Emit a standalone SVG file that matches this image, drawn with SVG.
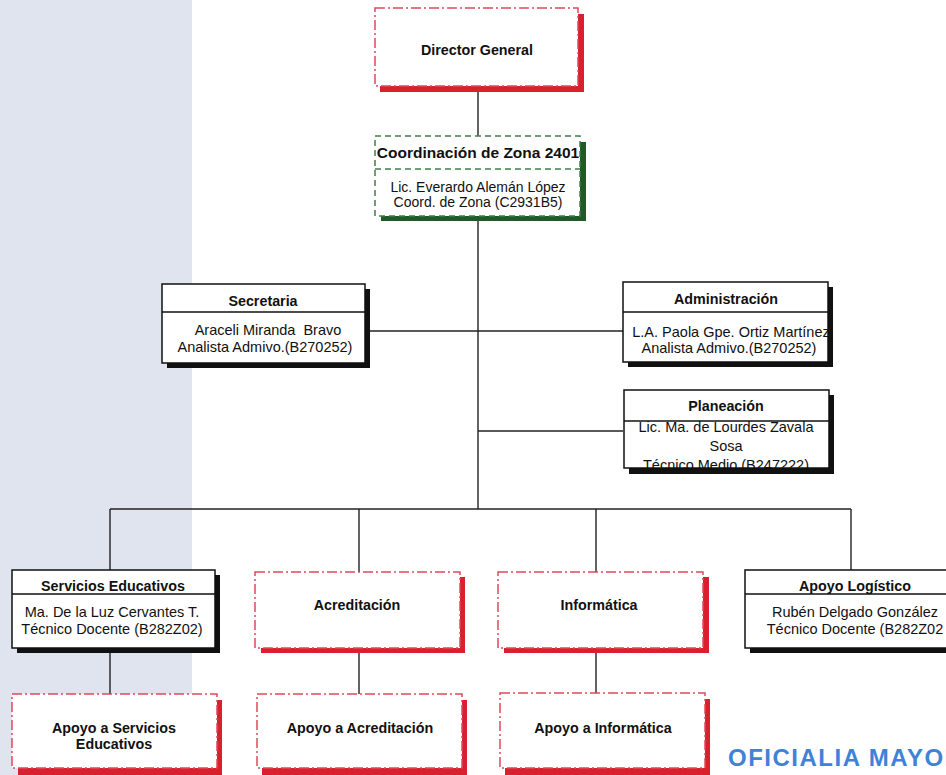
<svg xmlns="http://www.w3.org/2000/svg" width="946" height="775" viewBox="0 0 946 775">
<style>
text{font-family:"Liberation Sans",Arial,sans-serif;fill:#111;text-anchor:middle;white-space:pre}
.t{font-weight:bold;font-size:14.3px}
.n{font-size:14.5px}
.box{fill:#fff;stroke:#111;stroke-width:1.5}
.sh{fill:#111}
.rsh{fill:#d8202e}
.rbox{fill:#fff;stroke:#e0485a;stroke-width:1.5;stroke-dasharray:10 3 2 3}
.gsh{fill:#1f5a27}
.gbox{fill:#fff;stroke:#3f7d4a;stroke-width:1.5;stroke-dasharray:6 4}
.c{stroke:#222;stroke-width:1.4;fill:none}
</style>
<rect x="0" y="0" width="192" height="775" fill="#dfe4ef"/>
<g id="connectors">
<line class="c" x1="478" y1="91" x2="478" y2="136"/>
<line class="c" x1="478" y1="221" x2="478" y2="509"/>
<line class="c" x1="370" y1="331" x2="623" y2="331"/>
<line class="c" x1="478" y1="431" x2="623" y2="431"/>
<line class="c" x1="110" y1="509" x2="851" y2="509"/>
<line class="c" x1="110" y1="509" x2="110" y2="570"/>
<line class="c" x1="359" y1="509" x2="359" y2="572"/>
<line class="c" x1="596" y1="509" x2="596" y2="572"/>
<line class="c" x1="851" y1="509" x2="851" y2="570"/>
<line class="c" x1="110" y1="653" x2="110" y2="694"/>
<line class="c" x1="359" y1="653" x2="359" y2="694"/>
<line class="c" x1="596" y1="653" x2="596" y2="694"/>
</g>
<g id="director">
<rect class="rsh" x="380" y="14" width="204" height="78"/>
<rect class="rbox" x="375" y="8" width="203" height="78"/>
<text class="t" x="477" y="55">Director General</text>
</g>
<g id="coordinacion">
<rect class="gsh" x="381" y="142" width="205" height="79"/>
<rect class="gbox" x="375" y="136" width="205" height="80"/>
<line class="gbox" x1="375" y1="169" x2="580" y2="169"/>
<text class="t" x="478" y="158" style="font-size:15.5px">Coordinación de Zona 2401</text>
<text class="n" x="478" y="192" style="font-size:14px">Lic. Everardo Alemán López</text>
<text class="n" x="478" y="207" style="font-size:14px">Coord. de Zona (C2931B5)</text>
</g>
<g id="secretaria">
<rect class="sh" x="167" y="289" width="203" height="79"/>
<rect class="box" x="162" y="284" width="203" height="79"/>
<line class="box" x1="162" y1="312" x2="365" y2="312"/>
<text class="t" x="263" y="306">Secretaria</text>
<text class="n" x="268" y="335">Araceli Miranda  Bravo</text>
<text class="n" x="265" y="352">Analista Admivo.(B270252)</text>
</g>
<g id="administracion">
<rect class="sh" x="628" y="287" width="205" height="80"/>
<rect class="box" x="623" y="282" width="205" height="80"/>
<line class="box" x1="623" y1="312" x2="828" y2="312"/>
<text class="t" x="726" y="304">Administración</text>
<text class="n" x="731" y="337">L.A. Paola Gpe. Ortiz Martínez</text>
<text class="n" x="729" y="353">Analista Admivo.(B270252)</text>
</g>
<g id="planeacion">
<rect class="sh" x="629" y="395" width="205" height="79"/>
<rect class="box" x="624" y="390" width="205" height="78"/>
<line class="box" x1="624" y1="421" x2="829" y2="421"/>
<text class="t" x="726" y="411">Planeación</text>
<text class="n" x="726" y="432">Lic. Ma. de Lourdes Zavala</text>
<text class="n" x="726" y="451">Sosa</text>
<text class="n" x="726" y="470">Técnico Medio (B247222)</text>
</g>
<g id="servicios">
<rect class="sh" x="17" y="575" width="203" height="78"/>
<rect class="box" x="12" y="570" width="203" height="78"/>
<line class="box" x1="12" y1="594" x2="215" y2="594"/>
<text class="t" x="113" y="591">Servicios Educativos</text>
<text class="n" x="112" y="617">Ma. De la Luz Cervantes T.</text>
<text class="n" x="112" y="634">Técnico Docente (B282Z02)</text>
</g>
<g id="acreditacion">
<rect class="rsh" x="261" y="577" width="204" height="76"/>
<rect class="rbox" x="255" y="572" width="205" height="76"/>
<text class="t" x="357" y="610">Acreditación</text>
</g>
<g id="informatica">
<rect class="rsh" x="504" y="577" width="205" height="76"/>
<rect class="rbox" x="498" y="572" width="205" height="76"/>
<text class="t" x="599" y="610">Informática</text>
</g>
<g id="logistico">
<rect class="sh" x="750" y="575" width="205" height="78"/>
<rect class="box" x="745" y="570" width="205" height="78"/>
<line class="box" x1="745" y1="594" x2="950" y2="594"/>
<text class="t" x="855" y="591">Apoyo Logístico</text>
<text class="n" x="855" y="617">Rubén Delgado González</text>
<text class="n" x="855" y="634">Técnico Docente (B282Z02</text>
</g>
<g id="apoyo-servicios">
<rect class="rsh" x="18" y="700" width="204" height="75"/>
<rect class="rbox" x="12" y="694" width="205" height="74"/>
<text class="t" x="114" y="733">Apoyo a Servicios</text>
<text class="t" x="114" y="749">Educativos</text>
</g>
<g id="apoyo-acreditacion">
<rect class="rsh" x="262" y="700" width="205" height="75"/>
<rect class="rbox" x="257" y="694" width="205" height="74"/>
<text class="t" x="360" y="733">Apoyo a Acreditación</text>
</g>
<g id="apoyo-informatica">
<rect class="rsh" x="505" y="699" width="205" height="76"/>
<rect class="rbox" x="500" y="693" width="205" height="75"/>
<text class="t" x="603" y="733">Apoyo a Informática</text>
</g>
<text x="728" y="766" style="text-anchor:start;font-weight:bold;font-size:24px;fill:#3f82d8;letter-spacing:1.5px">OFICIALIA MAYOR</text>
</svg>
